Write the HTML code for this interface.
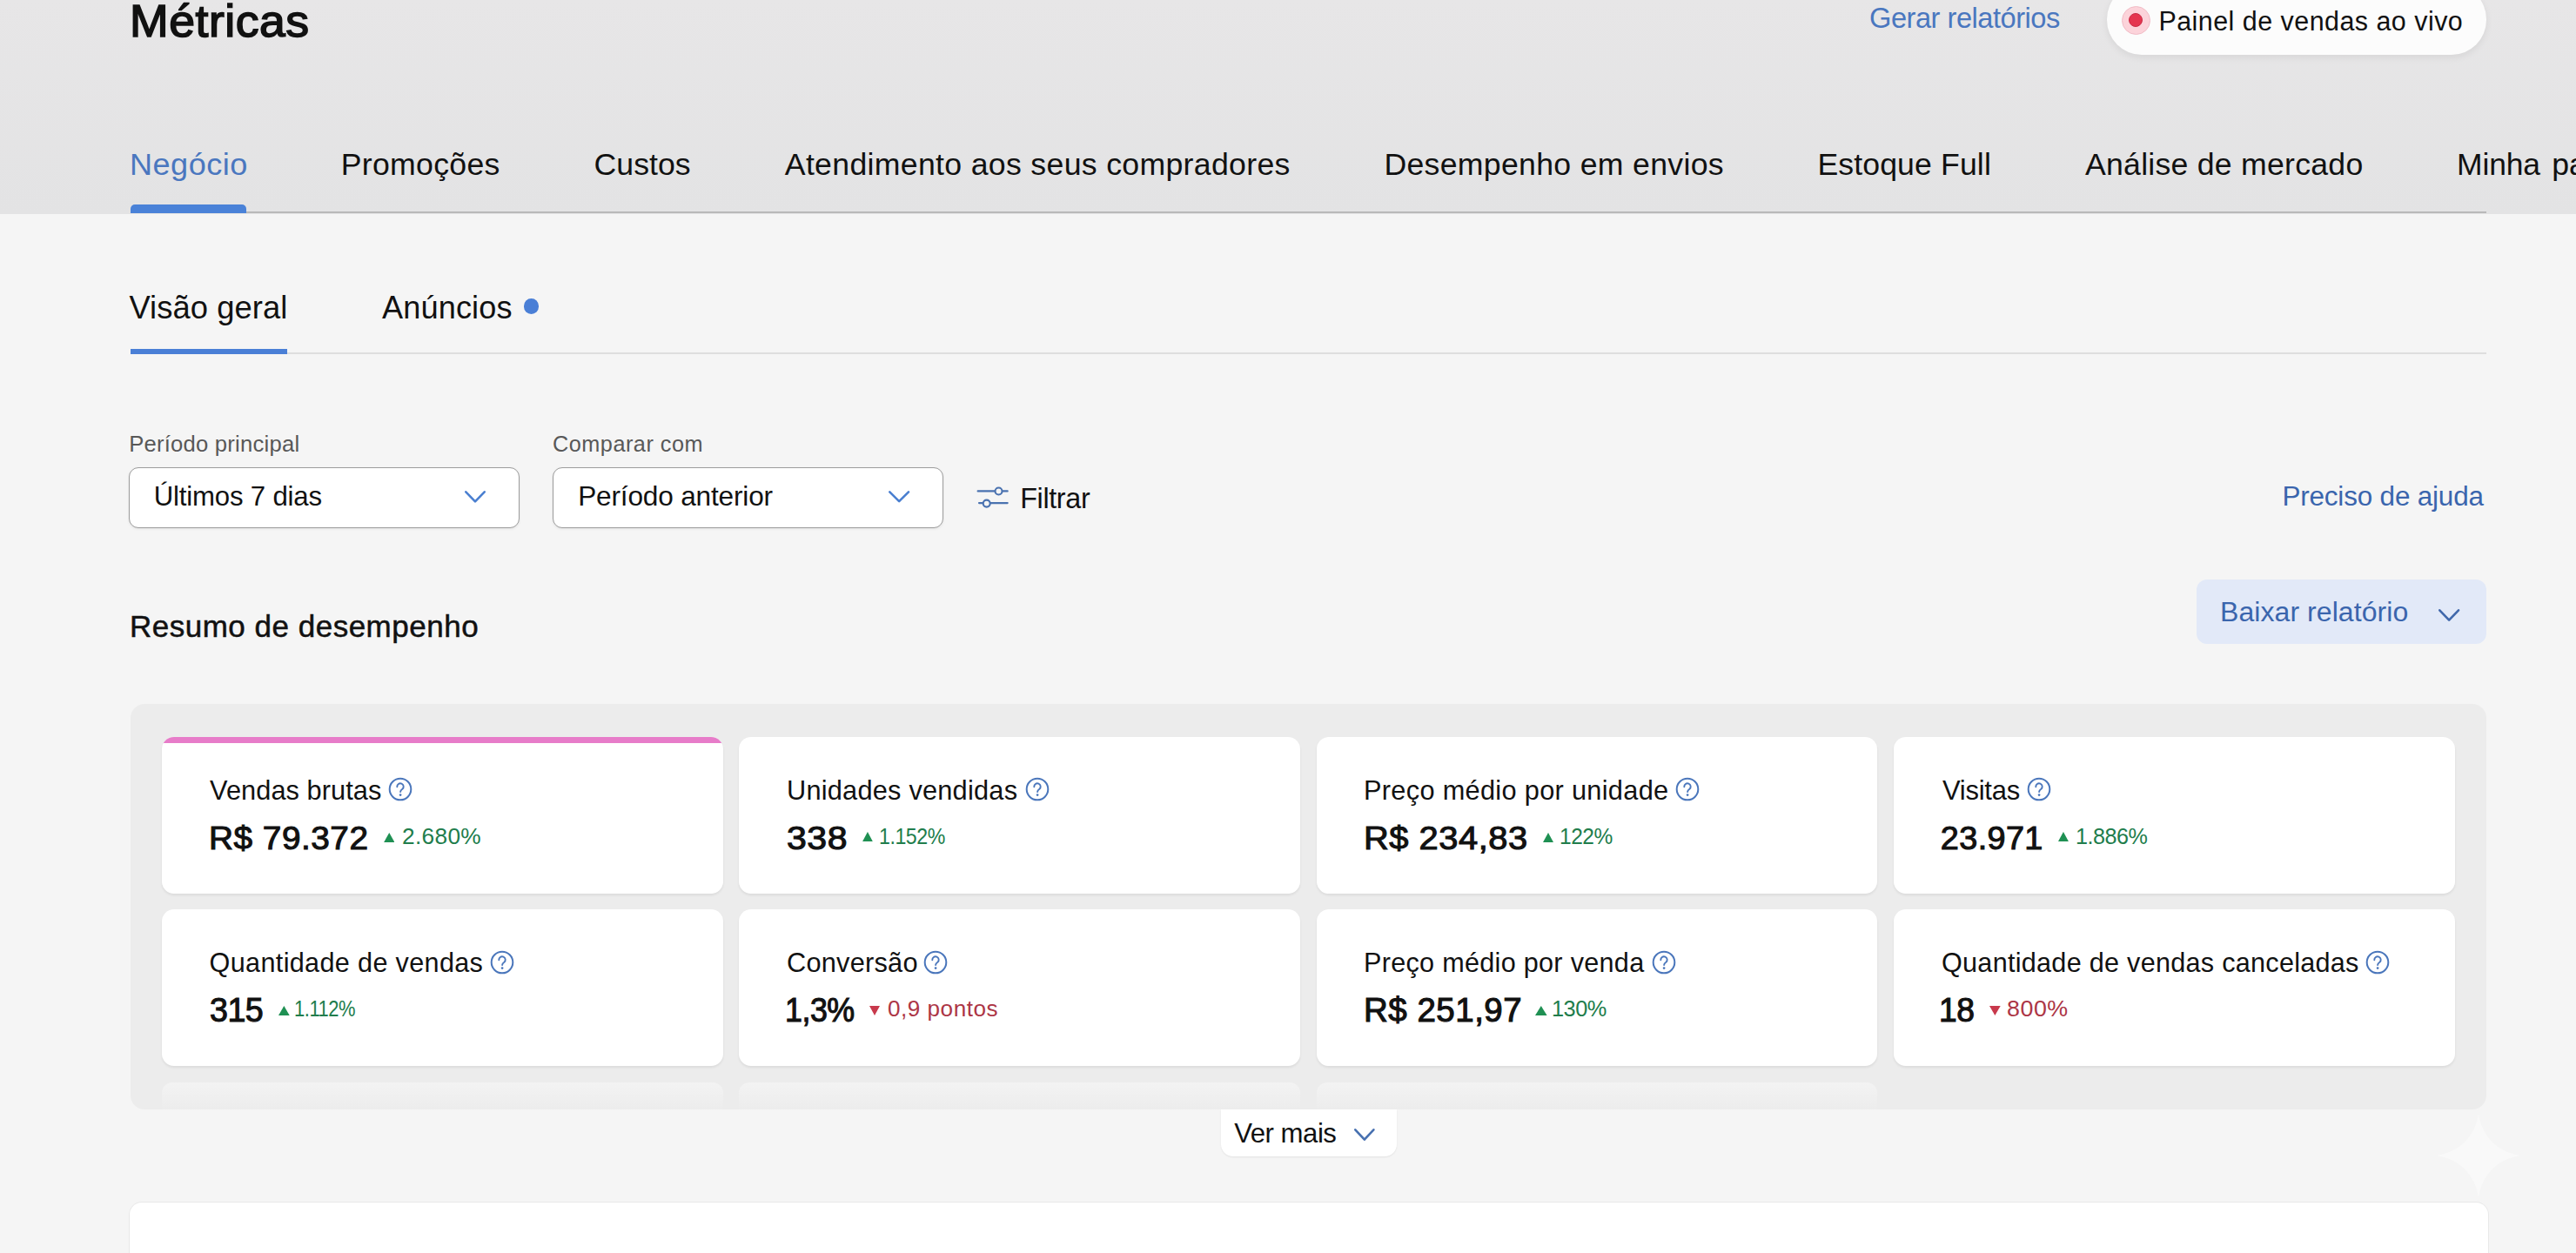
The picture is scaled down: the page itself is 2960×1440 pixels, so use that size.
<!DOCTYPE html>
<html><head><meta charset="utf-8"><title>Métricas</title>
<style>
html,body{margin:0;padding:0}
body{width:2960px;height:1440px;overflow:hidden;position:relative;background:#f5f5f5;font-family:"Liberation Sans",sans-serif}
.t{position:absolute;white-space:nowrap;font-family:"Liberation Sans",sans-serif}
</style></head><body>
<div style="position:absolute;left:0;top:0;width:2960px;height:245.5px;background:linear-gradient(#e7e6e7,#e3e3e4)"></div>
<div style="position:absolute;left:150px;top:243px;width:2707px;height:2px;background:#b9b9b9"></div>
<div style="position:absolute;left:150.2px;top:235px;width:132.5px;height:9.5px;background:#4a82d8;border-radius:5px 5px 0 0"></div>
<div style="position:absolute;left:2421px;top:-18px;width:436px;height:80.5px;border-radius:40px;background:#fcfcfc;box-shadow:0 3px 8px rgba(0,0,0,0.07)"></div>
<div style="position:absolute;left:2438px;top:7px;width:31px;height:31px;border-radius:50%;background:#fcd3da;border:1px solid #f1bcc6"></div>
<div style="position:absolute;left:2446.3px;top:15.3px;width:16px;height:16px;box-sizing:border-box;border-radius:50%;background:#e5354f;border:1px solid #c92c45"></div>
<div style="position:absolute;left:150px;top:405px;width:2707px;height:2px;background:#dedede"></div>
<div style="position:absolute;left:150px;top:400.6px;width:180px;height:6px;background:#4a7fd6"></div>
<div style="position:absolute;left:601.8px;top:343px;width:17.5px;height:17.5px;border-radius:50%;background:#4a7fd6"></div>
<div style="position:absolute;left:148.4px;top:536.7px;width:449px;height:70.3px;box-sizing:border-box;border:1.6px solid #9c9c9c;border-radius:11px;background:#fff;box-shadow:0 1px 3px rgba(0,0,0,0.08)"></div>
<div style="position:absolute;left:635.4px;top:536.7px;width:449px;height:70.3px;box-sizing:border-box;border:1.6px solid #9c9c9c;border-radius:11px;background:#fff;box-shadow:0 1px 3px rgba(0,0,0,0.08)"></div>
<svg style="position:absolute;left:531.0px;top:560.8px" width="30.0" height="19.6"><polyline points="4.30,4.30 15.00,15.30 25.70,4.30" fill="none" stroke="#4a7fd0" stroke-width="2.6" stroke-linecap="round" stroke-linejoin="round"/></svg>
<svg style="position:absolute;left:1018.0px;top:561.0px" width="30.3" height="19.4"><polyline points="4.30,4.30 15.15,15.10 26.00,4.30" fill="none" stroke="#4a7fd0" stroke-width="2.6" stroke-linecap="round" stroke-linejoin="round"/></svg>
<svg style="position:absolute;left:1118px;top:552px" width="46" height="34"><g fill="none" stroke="#4a72b0" stroke-width="2.1" stroke-linecap="round"><line x1="5.6" y1="12.4" x2="25" y2="12.4"/><line x1="34.5" y1="12.4" x2="39.7" y2="12.4"/><circle cx="29.5" cy="12.5" r="4"/><line x1="7" y1="26.1" x2="11.3" y2="26.1"/><line x1="20.2" y1="26.1" x2="39.7" y2="26.1"/><circle cx="15.7" cy="26.6" r="4"/></g></svg>
<div style="position:absolute;left:2524px;top:666.2px;width:333px;height:73.4px;border-radius:12px;background:#e2e9f8"></div>
<svg style="position:absolute;left:2799.4px;top:696.6px" width="30.3" height="19.9"><polyline points="4.30,4.30 15.15,15.60 26.00,4.30" fill="none" stroke="#3f67aa" stroke-width="2.6" stroke-linecap="round" stroke-linejoin="round"/></svg>
<div style="position:absolute;left:150px;top:809px;width:2707px;height:466px;border-radius:16px;background:#ececec;overflow:hidden"><div style="position:absolute;left:36.00px;top:434.5px;width:644.75px;height:180px;border-radius:12px;background:linear-gradient(#f3f3f3,#ececec 32px)"></div><div style="position:absolute;left:699.25px;top:434.5px;width:644.75px;height:180px;border-radius:12px;background:linear-gradient(#f3f3f3,#ececec 32px)"></div><div style="position:absolute;left:1362.50px;top:434.5px;width:644.75px;height:180px;border-radius:12px;background:linear-gradient(#f3f3f3,#ececec 32px)"></div></div>
<div style="position:absolute;left:186px;top:846.5px;width:644.75px;height:180.3px;border-radius:14px;background:#fff;overflow:hidden;box-shadow:0 2px 3px rgba(0,0,0,0.07)"><div style="position:absolute;left:0;top:0;width:100%;height:7.5px;background:#e77cc9"></div></div>
<div style="position:absolute;left:849.25px;top:846.5px;width:644.75px;height:180.3px;border-radius:14px;background:#fff;overflow:hidden;box-shadow:0 2px 3px rgba(0,0,0,0.07)"></div>
<div style="position:absolute;left:1512.5px;top:846.5px;width:644.75px;height:180.3px;border-radius:14px;background:#fff;overflow:hidden;box-shadow:0 2px 3px rgba(0,0,0,0.07)"></div>
<div style="position:absolute;left:2175.75px;top:846.5px;width:644.75px;height:180.3px;border-radius:14px;background:#fff;overflow:hidden;box-shadow:0 2px 3px rgba(0,0,0,0.07)"></div>
<div style="position:absolute;left:186px;top:1045px;width:644.75px;height:180.3px;border-radius:14px;background:#fff;overflow:hidden;box-shadow:0 2px 3px rgba(0,0,0,0.07)"></div>
<div style="position:absolute;left:849.25px;top:1045px;width:644.75px;height:180.3px;border-radius:14px;background:#fff;overflow:hidden;box-shadow:0 2px 3px rgba(0,0,0,0.07)"></div>
<div style="position:absolute;left:1512.5px;top:1045px;width:644.75px;height:180.3px;border-radius:14px;background:#fff;overflow:hidden;box-shadow:0 2px 3px rgba(0,0,0,0.07)"></div>
<div style="position:absolute;left:2175.75px;top:1045px;width:644.75px;height:180.3px;border-radius:14px;background:#fff;overflow:hidden;box-shadow:0 2px 3px rgba(0,0,0,0.07)"></div>
<svg style="position:absolute;left:444.10px;top:891.30px" width="32" height="32" viewBox="-16 -16 32 32"><circle cx="0" cy="0" r="12.3" fill="none" stroke="#4a76bb" stroke-width="2"/><path d="M-3.7,-2.8 A3.7,3.7 0 1 1 2.4,-0.2 Q0.1,1.3 0.1,3.1" fill="none" stroke="#4a76bb" stroke-width="1.9" stroke-linecap="round"/><circle cx="0.1" cy="6.6" r="1.35" fill="#4a76bb"/></svg>
<svg style="position:absolute;left:1175.50px;top:891.30px" width="32" height="32" viewBox="-16 -16 32 32"><circle cx="0" cy="0" r="12.3" fill="none" stroke="#4a76bb" stroke-width="2"/><path d="M-3.7,-2.8 A3.7,3.7 0 1 1 2.4,-0.2 Q0.1,1.3 0.1,3.1" fill="none" stroke="#4a76bb" stroke-width="1.9" stroke-linecap="round"/><circle cx="0.1" cy="6.6" r="1.35" fill="#4a76bb"/></svg>
<svg style="position:absolute;left:1923.40px;top:891.30px" width="32" height="32" viewBox="-16 -16 32 32"><circle cx="0" cy="0" r="12.3" fill="none" stroke="#4a76bb" stroke-width="2"/><path d="M-3.7,-2.8 A3.7,3.7 0 1 1 2.4,-0.2 Q0.1,1.3 0.1,3.1" fill="none" stroke="#4a76bb" stroke-width="1.9" stroke-linecap="round"/><circle cx="0.1" cy="6.6" r="1.35" fill="#4a76bb"/></svg>
<svg style="position:absolute;left:2326.70px;top:891.30px" width="32" height="32" viewBox="-16 -16 32 32"><circle cx="0" cy="0" r="12.3" fill="none" stroke="#4a76bb" stroke-width="2"/><path d="M-3.7,-2.8 A3.7,3.7 0 1 1 2.4,-0.2 Q0.1,1.3 0.1,3.1" fill="none" stroke="#4a76bb" stroke-width="1.9" stroke-linecap="round"/><circle cx="0.1" cy="6.6" r="1.35" fill="#4a76bb"/></svg>
<svg style="position:absolute;left:561.30px;top:1089.80px" width="32" height="32" viewBox="-16 -16 32 32"><circle cx="0" cy="0" r="12.3" fill="none" stroke="#4a76bb" stroke-width="2"/><path d="M-3.7,-2.8 A3.7,3.7 0 1 1 2.4,-0.2 Q0.1,1.3 0.1,3.1" fill="none" stroke="#4a76bb" stroke-width="1.9" stroke-linecap="round"/><circle cx="0.1" cy="6.6" r="1.35" fill="#4a76bb"/></svg>
<svg style="position:absolute;left:1059.20px;top:1089.80px" width="32" height="32" viewBox="-16 -16 32 32"><circle cx="0" cy="0" r="12.3" fill="none" stroke="#4a76bb" stroke-width="2"/><path d="M-3.7,-2.8 A3.7,3.7 0 1 1 2.4,-0.2 Q0.1,1.3 0.1,3.1" fill="none" stroke="#4a76bb" stroke-width="1.9" stroke-linecap="round"/><circle cx="0.1" cy="6.6" r="1.35" fill="#4a76bb"/></svg>
<svg style="position:absolute;left:1895.50px;top:1089.80px" width="32" height="32" viewBox="-16 -16 32 32"><circle cx="0" cy="0" r="12.3" fill="none" stroke="#4a76bb" stroke-width="2"/><path d="M-3.7,-2.8 A3.7,3.7 0 1 1 2.4,-0.2 Q0.1,1.3 0.1,3.1" fill="none" stroke="#4a76bb" stroke-width="1.9" stroke-linecap="round"/><circle cx="0.1" cy="6.6" r="1.35" fill="#4a76bb"/></svg>
<svg style="position:absolute;left:2715.90px;top:1089.80px" width="32" height="32" viewBox="-16 -16 32 32"><circle cx="0" cy="0" r="12.3" fill="none" stroke="#4a76bb" stroke-width="2"/><path d="M-3.7,-2.8 A3.7,3.7 0 1 1 2.4,-0.2 Q0.1,1.3 0.1,3.1" fill="none" stroke="#4a76bb" stroke-width="1.9" stroke-linecap="round"/><circle cx="0.1" cy="6.6" r="1.35" fill="#4a76bb"/></svg>
<svg style="position:absolute;left:440.7px;top:957.3px" width="12.5" height="11.2"><polygon points="0,11.200000000000045 6.25,0 12.5,11.200000000000045" fill="#1f9053"/></svg>
<svg style="position:absolute;left:991.3px;top:956.3px" width="11.9" height="11.2"><polygon points="0,11.200000000000045 5.9500000000000455,0 11.900000000000091,11.200000000000045" fill="#1f9053"/></svg>
<svg style="position:absolute;left:1772.5px;top:956.5px" width="12.0" height="11.0"><polygon points="0,11.0 6.0,0 12.0,11.0" fill="#1f9053"/></svg>
<svg style="position:absolute;left:2365.3px;top:956.3px" width="11.9" height="11.0"><polygon points="0,11.0 5.949999999999818,0 11.899999999999636,11.0" fill="#1f9053"/></svg>
<svg style="position:absolute;left:320.0px;top:1155.8px" width="12.7" height="11.0"><polygon points="0,11.0 6.349999999999994,0 12.699999999999989,11.0" fill="#1f9053"/></svg>
<svg style="position:absolute;left:999.0px;top:1155.8px" width="12.0" height="11.0"><polygon points="0,0 12,0 6.0,11.0" fill="#c8394c"/></svg>
<svg style="position:absolute;left:1764.0px;top:1155.8px" width="13.6" height="11.0"><polygon points="0,11.0 6.7999999999999545,0 13.599999999999909,11.0" fill="#1f9053"/></svg>
<svg style="position:absolute;left:2286.0px;top:1155.8px" width="12.7" height="11.0"><polygon points="0,0 12.699999999999818,0 6.349999999999909,11.0" fill="#c8394c"/></svg>
<div style="position:absolute;left:1402.7px;top:1275px;width:202.3px;height:54px;border-radius:0 0 14px 14px;background:#fff;box-shadow:0 1px 2px rgba(0,0,0,0.08)"></div>
<svg style="position:absolute;left:1552.6px;top:1294.0px" width="29.7" height="20.0"><polyline points="4.30,4.30 14.85,15.70 25.40,4.30" fill="none" stroke="#4770b0" stroke-width="2.6" stroke-linecap="round" stroke-linejoin="round"/></svg>
<div style="position:absolute;left:148.5px;top:1381.5px;width:2710.5px;height:120px;border-radius:14px;background:#fff;box-shadow:0 0 0 1px rgba(0,0,0,0.05)"></div>
<svg style="position:absolute;left:2800px;top:1280px" width="96" height="96" viewBox="0 0 96 96"><path d="M48,0 C52,26 70,44 96,48 C70,52 52,70 48,96 C44,70 26,52 0,48 C26,44 44,26 48,0Z" fill="rgba(255,255,255,0.4)"/></svg>
<div class=t style="left:149.31px;top:-1.57px;font-size:52.32px;line-height:52.32px;color:#111;letter-spacing:0.500px;-webkit-text-stroke:1.6px #111;transform:scaleX(1.0245);transform-origin:0 0;">Métricas</div>
<div class=t style="left:2148.41px;top:5.04px;font-size:32.90px;line-height:32.90px;color:#4a77bf;letter-spacing:-0.500px;transform:scaleX(0.9922);transform-origin:0 0;">Gerar relatórios</div>
<div class=t style="left:2480.40px;top:9.03px;font-size:30.43px;line-height:30.43px;color:#111;letter-spacing:0.483px;">Painel de vendas ao vivo</div>
<div class=t style="left:148.97px;top:171.70px;font-size:35.65px;line-height:35.65px;color:#4a77bf;letter-spacing:0.500px;transform:scaleX(1.0115);transform-origin:0 0;">Negócio</div>
<div class=t style="left:391.80px;top:171.70px;font-size:35.65px;line-height:35.65px;color:#111;letter-spacing:0.288px;">Promoções</div>
<div class=t style="left:682.60px;top:171.70px;font-size:35.65px;line-height:35.65px;color:#111;letter-spacing:0.020px;">Custos</div>
<div class=t style="left:901.80px;top:171.70px;font-size:35.65px;line-height:35.65px;color:#111;letter-spacing:0.323px;">Atendimento aos seus compradores</div>
<div class=t style="left:1590.40px;top:171.70px;font-size:35.65px;line-height:35.65px;color:#111;letter-spacing:0.311px;">Desempenho em envios</div>
<div class=t style="left:2088.40px;top:171.70px;font-size:35.65px;line-height:35.65px;color:#111;letter-spacing:0.118px;">Estoque Full</div>
<div class=t style="left:2396.00px;top:171.70px;font-size:35.65px;line-height:35.65px;color:#111;letter-spacing:0.247px;">Análise de mercado</div>
<div class=t style="left:2823.41px;top:171.70px;font-size:35.65px;line-height:35.65px;color:#111;letter-spacing:-0.125px;transform:scaleX(0.9947);transform-origin:0 0;">Minha</div>
<div class=t style="left:2932.20px;top:171.70px;font-size:35.65px;line-height:35.65px;color:#111;letter-spacing:0.000px;">parceria</div>
<div class=t style="left:148.40px;top:336.18px;font-size:36.38px;line-height:36.38px;color:#111;letter-spacing:0.070px;">Visão geral</div>
<div class=t style="left:439.00px;top:336.43px;font-size:36.09px;line-height:36.09px;color:#111;letter-spacing:0.157px;">Anúncios</div>
<div class=t style="left:148.20px;top:498.00px;font-size:25.65px;line-height:25.65px;color:#585858;letter-spacing:0.219px;">Período principal</div>
<div class=t style="left:634.99px;top:498.49px;font-size:25.07px;line-height:25.07px;color:#585858;letter-spacing:0.500px;transform:scaleX(1.0077);transform-origin:0 0;">Comparar com</div>
<div class=t style="left:176.80px;top:555.41px;font-size:31.16px;line-height:31.16px;color:#111;letter-spacing:-0.192px;">Últimos 7 dias</div>
<div class=t style="left:664.20px;top:555.24px;font-size:31.59px;line-height:31.59px;color:#111;letter-spacing:-0.173px;">Período anterior</div>
<div class=t style="left:1172.20px;top:557.03px;font-size:32.32px;line-height:32.32px;color:#111;letter-spacing:-0.350px;">Filtrar</div>
<div class=t style="left:2622.40px;top:555.27px;font-size:31.45px;line-height:31.45px;color:#3a65ad;letter-spacing:-0.173px;">Preciso de ajuda</div>
<div class=t style="left:2551.00px;top:686.68px;font-size:32.03px;line-height:32.03px;color:#3a65ad;letter-spacing:0.060px;">Baixar relatório</div>
<div class=t style="left:148.96px;top:703.38px;font-size:34.49px;line-height:34.49px;color:#111;letter-spacing:0.500px;-webkit-text-stroke:0.5px #111;transform:scaleX(1.0146);transform-origin:0 0;">Resumo de desempenho</div>
<div class=t style="left:1418.20px;top:1286.71px;font-size:31.16px;line-height:31.16px;color:#111;letter-spacing:-0.500px;">Ver mais</div>
<div class=t style="left:241.00px;top:894.08px;font-size:30.72px;line-height:30.72px;color:#111;letter-spacing:0.083px;">Vendas brutas</div>
<div class=t style="left:240.33px;top:944.85px;font-size:37.83px;line-height:37.83px;color:#111;letter-spacing:0.500px;-webkit-text-stroke:1.1px #111;transform:scaleX(1.0246);transform-origin:0 0;">R$ 79.372</div>
<div class=t style="left:461.99px;top:947.83px;font-size:26.09px;line-height:26.09px;color:#217d4c;letter-spacing:0.320px;transform:scaleX(1.0068);transform-origin:0 0;">2.680%</div>
<div class=t style="left:904.00px;top:894.08px;font-size:30.72px;line-height:30.72px;color:#111;letter-spacing:0.231px;">Unidades vendidas</div>
<div class=t style="left:903.50px;top:944.85px;font-size:37.83px;line-height:37.83px;color:#111;letter-spacing:0.500px;-webkit-text-stroke:1.1px #111;transform:scaleX(1.0839);transform-origin:0 0;">338</div>
<div class=t style="left:1010.04px;top:947.83px;font-size:26.09px;line-height:26.09px;color:#217d4c;letter-spacing:-0.500px;transform:scaleX(0.8867);transform-origin:0 0;">1.152%</div>
<div class=t style="left:1567.00px;top:894.08px;font-size:30.72px;line-height:30.72px;color:#111;letter-spacing:0.314px;">Preço médio por unidade</div>
<div class=t style="left:1566.63px;top:944.85px;font-size:37.83px;line-height:37.83px;color:#111;letter-spacing:0.500px;-webkit-text-stroke:1.1px #111;transform:scaleX(1.0537);transform-origin:0 0;">R$ 234,83</div>
<div class=t style="left:1792.09px;top:947.83px;font-size:26.09px;line-height:26.09px;color:#217d4c;letter-spacing:-0.500px;transform:scaleX(0.9397);transform-origin:0 0;">122%</div>
<div class=t style="left:2231.80px;top:894.08px;font-size:30.72px;line-height:30.72px;color:#111;letter-spacing:-0.233px;transform:scaleX(1.0069);transform-origin:0 0;">Visitas</div>
<div class=t style="left:2229.80px;top:944.85px;font-size:37.83px;line-height:37.83px;color:#111;letter-spacing:0.380px;-webkit-text-stroke:1.1px #111;">23.971</div>
<div class=t style="left:2385.25px;top:947.83px;font-size:26.09px;line-height:26.09px;color:#217d4c;letter-spacing:-0.500px;transform:scaleX(0.9643);transform-origin:0 0;">1.886%</div>
<div class=t style="left:240.60px;top:1091.31px;font-size:30.58px;line-height:30.58px;color:#111;letter-spacing:0.347px;">Quantidade de vendas</div>
<div class=t style="left:240.81px;top:1141.60px;font-size:38.12px;line-height:38.12px;color:#111;letter-spacing:-0.500px;-webkit-text-stroke:1.1px #111;transform:scaleX(0.9869);transform-origin:0 0;">315</div>
<div class=t style="left:338.30px;top:1147.47px;font-size:25.80px;line-height:25.80px;color:#217d4c;letter-spacing:-0.500px;transform:scaleX(0.8500);transform-origin:0 0;">1.112%</div>
<div class=t style="left:903.59px;top:1091.31px;font-size:30.58px;line-height:30.58px;color:#111;letter-spacing:0.225px;transform:scaleX(1.0054);transform-origin:0 0;">Conversão</div>
<div class=t style="left:901.76px;top:1141.60px;font-size:38.12px;line-height:38.12px;color:#111;letter-spacing:-0.500px;-webkit-text-stroke:1.1px #111;transform:scaleX(0.9390);transform-origin:0 0;">1,3%</div>
<div class=t style="left:1019.99px;top:1147.47px;font-size:25.80px;line-height:25.80px;color:#ad3646;letter-spacing:0.500px;transform:scaleX(1.0122);transform-origin:0 0;">0,9 pontos</div>
<div class=t style="left:1567.00px;top:1091.31px;font-size:30.58px;line-height:30.58px;color:#111;letter-spacing:0.300px;">Preço médio por venda</div>
<div class=t style="left:1566.77px;top:1141.60px;font-size:38.12px;line-height:38.12px;color:#111;letter-spacing:0.500px;-webkit-text-stroke:1.1px #111;transform:scaleX(1.0102);transform-origin:0 0;">R$ 251,97</div>
<div class=t style="left:1783.03px;top:1147.47px;font-size:25.80px;line-height:25.80px;color:#217d4c;letter-spacing:-0.500px;transform:scaleX(0.9823);transform-origin:0 0;">130%</div>
<div class=t style="left:2231.00px;top:1091.31px;font-size:30.58px;line-height:30.58px;color:#111;letter-spacing:0.283px;">Quantidade de vendas canceladas</div>
<div class=t style="left:2228.47px;top:1141.60px;font-size:38.12px;line-height:38.12px;color:#111;letter-spacing:-0.500px;-webkit-text-stroke:1.1px #111;transform:scaleX(0.9763);transform-origin:0 0;">18</div>
<div class=t style="left:2305.74px;top:1147.47px;font-size:25.80px;line-height:25.80px;color:#ad3646;letter-spacing:0.500px;transform:scaleX(1.0400);transform-origin:0 0;">800%</div>
</body></html>
